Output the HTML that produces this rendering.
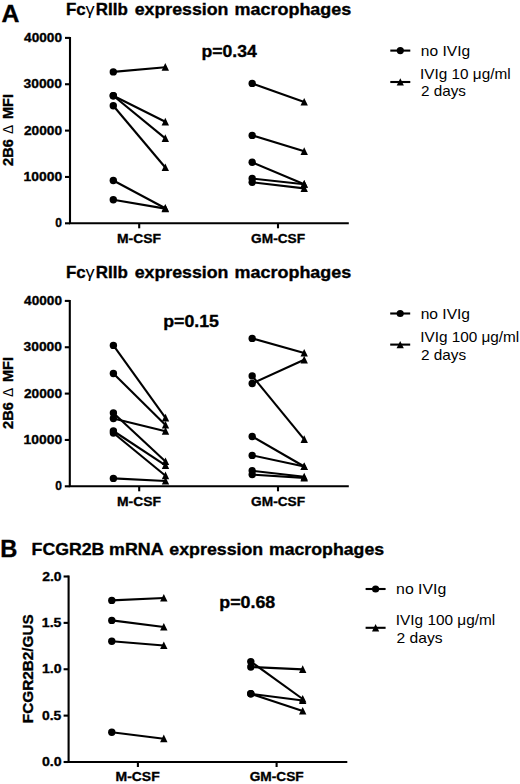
<!DOCTYPE html>
<html><head><meta charset="utf-8"><style>
html,body{margin:0;padding:0;background:#fff;}
svg{display:block;font-family:"Liberation Sans", sans-serif;}
text{stroke:none;fill:#000;} text[font-weight="bold"]{stroke:#000;stroke-width:0.35px;}
circle,path{stroke:none;fill:#000;}
line{stroke:#000;}
.ax{stroke:#000;fill:none;}
</style></head><body>
<svg width="520" height="784" viewBox="0 0 520 784">
<path class="ax" d="M70,37.0 V223.3 H348.8" stroke-width="2.1"/>
<line x1="65.00" y1="37.90" x2="70.00" y2="37.90" stroke-width="2.1"/>
<line x1="65.00" y1="84.25" x2="70.00" y2="84.25" stroke-width="2.1"/>
<line x1="65.00" y1="130.60" x2="70.00" y2="130.60" stroke-width="2.1"/>
<line x1="65.00" y1="176.95" x2="70.00" y2="176.95" stroke-width="2.1"/>
<line x1="65.00" y1="223.30" x2="70.00" y2="223.30" stroke-width="2.1"/>
<line x1="139.20" y1="223.30" x2="139.20" y2="228.30" stroke-width="2.1"/>
<line x1="278.00" y1="223.30" x2="278.00" y2="228.30" stroke-width="2.1"/>
<line x1="113.30" y1="71.90" x2="165.30" y2="67.20" stroke-width="2.1"/>
<line x1="113.30" y1="95.80" x2="165.30" y2="121.80" stroke-width="2.1"/>
<line x1="113.30" y1="95.80" x2="165.30" y2="138.40" stroke-width="2.1"/>
<line x1="113.30" y1="105.80" x2="165.30" y2="167.50" stroke-width="2.1"/>
<line x1="113.30" y1="180.50" x2="165.30" y2="208.20" stroke-width="2.1"/>
<line x1="113.30" y1="199.70" x2="165.30" y2="208.60" stroke-width="2.1"/>
<circle cx="113.30" cy="71.90" r="3.7"/>
<circle cx="113.30" cy="95.80" r="3.7"/>
<circle cx="113.30" cy="95.80" r="3.7"/>
<circle cx="113.30" cy="105.80" r="3.7"/>
<circle cx="113.30" cy="180.50" r="3.7"/>
<circle cx="113.30" cy="199.70" r="3.7"/>
<path d="M161.60,70.80L165.30,63.10L169.00,70.80Z"/>
<path d="M161.60,125.40L165.30,117.70L169.00,125.40Z"/>
<path d="M161.60,142.00L165.30,134.30L169.00,142.00Z"/>
<path d="M161.60,171.10L165.30,163.40L169.00,171.10Z"/>
<path d="M161.60,211.80L165.30,204.10L169.00,211.80Z"/>
<path d="M161.60,212.20L165.30,204.50L169.00,212.20Z"/>
<line x1="252.20" y1="83.40" x2="304.20" y2="102.00" stroke-width="2.1"/>
<line x1="252.20" y1="135.40" x2="304.20" y2="151.30" stroke-width="2.1"/>
<line x1="252.20" y1="162.30" x2="304.20" y2="184.20" stroke-width="2.1"/>
<line x1="252.20" y1="178.50" x2="304.20" y2="184.20" stroke-width="2.1"/>
<line x1="252.20" y1="182.30" x2="304.20" y2="188.40" stroke-width="2.1"/>
<circle cx="252.20" cy="83.40" r="3.7"/>
<circle cx="252.20" cy="135.40" r="3.7"/>
<circle cx="252.20" cy="162.30" r="3.7"/>
<circle cx="252.20" cy="178.50" r="3.7"/>
<circle cx="252.20" cy="182.30" r="3.7"/>
<path d="M300.50,105.60L304.20,97.90L307.90,105.60Z"/>
<path d="M300.50,154.90L304.20,147.20L307.90,154.90Z"/>
<path d="M300.50,187.80L304.20,180.10L307.90,187.80Z"/>
<path d="M300.50,187.80L304.20,180.10L307.90,187.80Z"/>
<path d="M300.50,192.00L304.20,184.30L307.90,192.00Z"/>
<line x1="390.30" y1="50.60" x2="410.30" y2="50.60" stroke-width="2.1"/>
<circle cx="400.30" cy="50.60" r="3.6"/>
<line x1="390.30" y1="82.00" x2="410.30" y2="82.00" stroke-width="2.1"/>
<path d="M396.70,85.60L400.30,78.30L403.90,85.60Z"/>
<path class="ax" d="M69.8,300.0 V486.3 H348.8" stroke-width="2.1"/>
<line x1="64.80" y1="300.90" x2="69.80" y2="300.90" stroke-width="2.1"/>
<line x1="64.80" y1="347.25" x2="69.80" y2="347.25" stroke-width="2.1"/>
<line x1="64.80" y1="393.60" x2="69.80" y2="393.60" stroke-width="2.1"/>
<line x1="64.80" y1="439.95" x2="69.80" y2="439.95" stroke-width="2.1"/>
<line x1="64.80" y1="486.30" x2="69.80" y2="486.30" stroke-width="2.1"/>
<line x1="139.20" y1="486.30" x2="139.20" y2="491.30" stroke-width="2.1"/>
<line x1="278.00" y1="486.30" x2="278.00" y2="491.30" stroke-width="2.1"/>
<line x1="113.40" y1="345.40" x2="165.50" y2="417.80" stroke-width="2.1"/>
<line x1="113.40" y1="373.50" x2="165.50" y2="425.00" stroke-width="2.1"/>
<line x1="113.40" y1="418.50" x2="165.50" y2="431.20" stroke-width="2.1"/>
<line x1="113.40" y1="413.00" x2="165.50" y2="461.50" stroke-width="2.1"/>
<line x1="113.40" y1="431.00" x2="165.50" y2="465.30" stroke-width="2.1"/>
<line x1="113.40" y1="433.00" x2="165.50" y2="475.70" stroke-width="2.1"/>
<line x1="113.40" y1="478.40" x2="165.50" y2="481.00" stroke-width="2.1"/>
<circle cx="113.40" cy="345.40" r="3.7"/>
<circle cx="113.40" cy="373.50" r="3.7"/>
<circle cx="113.40" cy="418.50" r="3.7"/>
<circle cx="113.40" cy="413.00" r="3.7"/>
<circle cx="113.40" cy="431.00" r="3.7"/>
<circle cx="113.40" cy="433.00" r="3.7"/>
<circle cx="113.40" cy="478.40" r="3.7"/>
<path d="M161.80,421.40L165.50,413.70L169.20,421.40Z"/>
<path d="M161.80,428.60L165.50,420.90L169.20,428.60Z"/>
<path d="M161.80,434.80L165.50,427.10L169.20,434.80Z"/>
<path d="M161.80,465.10L165.50,457.40L169.20,465.10Z"/>
<path d="M161.80,468.90L165.50,461.20L169.20,468.90Z"/>
<path d="M161.80,479.30L165.50,471.60L169.20,479.30Z"/>
<path d="M161.80,484.60L165.50,476.90L169.20,484.60Z"/>
<line x1="252.20" y1="338.40" x2="304.20" y2="353.00" stroke-width="2.1"/>
<line x1="252.20" y1="383.50" x2="304.20" y2="359.80" stroke-width="2.1"/>
<line x1="252.20" y1="375.90" x2="304.20" y2="439.30" stroke-width="2.1"/>
<line x1="252.20" y1="436.50" x2="304.20" y2="466.50" stroke-width="2.1"/>
<line x1="252.20" y1="455.40" x2="304.20" y2="466.50" stroke-width="2.1"/>
<line x1="252.20" y1="470.80" x2="304.20" y2="476.80" stroke-width="2.1"/>
<line x1="252.20" y1="474.60" x2="304.20" y2="477.90" stroke-width="2.1"/>
<circle cx="252.20" cy="338.40" r="3.7"/>
<circle cx="252.20" cy="383.50" r="3.7"/>
<circle cx="252.20" cy="375.90" r="3.7"/>
<circle cx="252.20" cy="436.50" r="3.7"/>
<circle cx="252.20" cy="455.40" r="3.7"/>
<circle cx="252.20" cy="470.80" r="3.7"/>
<circle cx="252.20" cy="474.60" r="3.7"/>
<path d="M300.50,356.60L304.20,348.90L307.90,356.60Z"/>
<path d="M300.50,363.40L304.20,355.70L307.90,363.40Z"/>
<path d="M300.50,442.90L304.20,435.20L307.90,442.90Z"/>
<path d="M300.50,470.10L304.20,462.40L307.90,470.10Z"/>
<path d="M300.50,470.10L304.20,462.40L307.90,470.10Z"/>
<path d="M300.50,480.40L304.20,472.70L307.90,480.40Z"/>
<path d="M300.50,481.50L304.20,473.80L307.90,481.50Z"/>
<line x1="390.20" y1="313.50" x2="410.20" y2="313.50" stroke-width="2.1"/>
<circle cx="400.20" cy="313.50" r="3.6"/>
<line x1="390.20" y1="344.60" x2="410.20" y2="344.60" stroke-width="2.1"/>
<path d="M396.60,348.20L400.20,340.90L403.80,348.20Z"/>
<path class="ax" d="M68.6,575.6 V762 H347.3" stroke-width="2.1"/>
<line x1="63.60" y1="576.50" x2="68.60" y2="576.50" stroke-width="2.1"/>
<line x1="63.60" y1="622.88" x2="68.60" y2="622.88" stroke-width="2.1"/>
<line x1="63.60" y1="669.25" x2="68.60" y2="669.25" stroke-width="2.1"/>
<line x1="63.60" y1="715.62" x2="68.60" y2="715.62" stroke-width="2.1"/>
<line x1="63.60" y1="762.00" x2="68.60" y2="762.00" stroke-width="2.1"/>
<line x1="137.90" y1="762.00" x2="137.90" y2="767.00" stroke-width="2.1"/>
<line x1="276.60" y1="762.00" x2="276.60" y2="767.00" stroke-width="2.1"/>
<line x1="111.80" y1="600.40" x2="163.80" y2="598.00" stroke-width="2.1"/>
<line x1="111.80" y1="620.40" x2="163.80" y2="627.00" stroke-width="2.1"/>
<line x1="111.80" y1="641.20" x2="163.80" y2="645.50" stroke-width="2.1"/>
<line x1="111.80" y1="732.30" x2="163.80" y2="738.70" stroke-width="2.1"/>
<circle cx="111.80" cy="600.40" r="3.7"/>
<circle cx="111.80" cy="620.40" r="3.7"/>
<circle cx="111.80" cy="641.20" r="3.7"/>
<circle cx="111.80" cy="732.30" r="3.7"/>
<path d="M160.10,601.60L163.80,593.90L167.50,601.60Z"/>
<path d="M160.10,630.60L163.80,622.90L167.50,630.60Z"/>
<path d="M160.10,649.10L163.80,641.40L167.50,649.10Z"/>
<path d="M160.10,742.30L163.80,734.60L167.50,742.30Z"/>
<line x1="250.80" y1="661.60" x2="302.70" y2="699.00" stroke-width="2.1"/>
<line x1="250.80" y1="667.00" x2="302.70" y2="669.40" stroke-width="2.1"/>
<line x1="250.80" y1="693.80" x2="302.70" y2="700.50" stroke-width="2.1"/>
<line x1="250.80" y1="693.80" x2="302.70" y2="711.00" stroke-width="2.1"/>
<circle cx="250.80" cy="661.60" r="3.7"/>
<circle cx="250.80" cy="667.00" r="3.7"/>
<circle cx="250.80" cy="693.80" r="3.7"/>
<circle cx="250.80" cy="693.80" r="3.7"/>
<path d="M299.00,702.60L302.70,694.90L306.40,702.60Z"/>
<path d="M299.00,673.00L302.70,665.30L306.40,673.00Z"/>
<path d="M299.00,704.10L302.70,696.40L306.40,704.10Z"/>
<path d="M299.00,714.60L302.70,706.90L306.40,714.60Z"/>
<line x1="365.60" y1="589.00" x2="385.60" y2="589.00" stroke-width="2.1"/>
<circle cx="375.60" cy="589.00" r="3.6"/>
<line x1="365.60" y1="627.80" x2="385.60" y2="627.80" stroke-width="2.1"/>
<path d="M372.00,631.40L375.60,624.10L379.20,631.40Z"/>
<text id="lA" x="1.42" y="21.90" font-size="24.6" font-weight="bold" textLength="17.91" lengthAdjust="spacingAndGlyphs">A</text>
<text id="lB" x="0.17" y="557.20" font-size="24.6" font-weight="bold" textLength="17.13" lengthAdjust="spacingAndGlyphs">B</text>
<text id="t0a" x="66.04" y="15.10" font-size="16.5" font-weight="bold" textLength="19.69" lengthAdjust="spacingAndGlyphs">Fc</text>
<text id="t0g" x="85.45" y="15.10" font-size="16.5" textLength="9.12" lengthAdjust="spacingAndGlyphs">&#947;</text>
<text id="t0b" x="95.89" y="15.10" font-size="16.5" font-weight="bold" textLength="31.96" lengthAdjust="spacingAndGlyphs">RIIb</text>
<text id="t0c" x="134.69" y="15.10" font-size="16.5" font-weight="bold" textLength="93.75" lengthAdjust="spacingAndGlyphs">expression</text>
<text id="t0d" x="234.64" y="15.10" font-size="16.5" font-weight="bold" textLength="116.64" lengthAdjust="spacingAndGlyphs">macrophages</text>
<text id="t1a" x="66.04" y="278.10" font-size="16.5" font-weight="bold" textLength="19.69" lengthAdjust="spacingAndGlyphs">Fc</text>
<text id="t1g" x="85.45" y="278.10" font-size="16.5" textLength="9.12" lengthAdjust="spacingAndGlyphs">&#947;</text>
<text id="t1b" x="95.89" y="278.10" font-size="16.5" font-weight="bold" textLength="31.96" lengthAdjust="spacingAndGlyphs">RIIb</text>
<text id="t1c" x="134.69" y="278.10" font-size="16.5" font-weight="bold" textLength="93.75" lengthAdjust="spacingAndGlyphs">expression</text>
<text id="t1d" x="234.64" y="278.10" font-size="16.5" font-weight="bold" textLength="116.64" lengthAdjust="spacingAndGlyphs">macrophages</text>
<text id="tBa" x="31.60" y="554.50" font-size="16.5" font-weight="bold" textLength="72.73" lengthAdjust="spacingAndGlyphs">FCGR2B</text>
<text id="tBb" x="109.11" y="554.50" font-size="16.5" font-weight="bold" textLength="54.40" lengthAdjust="spacingAndGlyphs">mRNA</text>
<text id="tBc" x="169.35" y="554.50" font-size="16.5" font-weight="bold" textLength="93.88" lengthAdjust="spacingAndGlyphs">expression</text>
<text id="tBd" x="268.93" y="554.50" font-size="16.5" font-weight="bold" textLength="115.19" lengthAdjust="spacingAndGlyphs">macrophages</text>
<text id="tk0_40000" x="24.12" y="41.90" font-size="13.5" font-weight="bold" textLength="37.85" lengthAdjust="spacingAndGlyphs">40000</text>
<text id="tk0_30000" x="23.52" y="88.25" font-size="13.5" font-weight="bold" textLength="38.47" lengthAdjust="spacingAndGlyphs">30000</text>
<text id="tk0_20000" x="23.90" y="134.60" font-size="13.5" font-weight="bold" textLength="38.12" lengthAdjust="spacingAndGlyphs">20000</text>
<text id="tk0_10000" x="23.50" y="180.95" font-size="13.5" font-weight="bold" textLength="38.64" lengthAdjust="spacingAndGlyphs">10000</text>
<text id="tk0_0" x="55.35" y="227.30" font-size="13.5" font-weight="bold" textLength="6.67" lengthAdjust="spacingAndGlyphs">0</text>
<text id="tk1_40000" x="24.12" y="304.90" font-size="13.5" font-weight="bold" textLength="37.85" lengthAdjust="spacingAndGlyphs">40000</text>
<text id="tk1_30000" x="23.52" y="351.25" font-size="13.5" font-weight="bold" textLength="38.47" lengthAdjust="spacingAndGlyphs">30000</text>
<text id="tk1_20000" x="23.90" y="397.60" font-size="13.5" font-weight="bold" textLength="38.12" lengthAdjust="spacingAndGlyphs">20000</text>
<text id="tk1_10000" x="23.50" y="443.95" font-size="13.5" font-weight="bold" textLength="38.64" lengthAdjust="spacingAndGlyphs">10000</text>
<text id="tk1_0" x="55.35" y="490.30" font-size="13.5" font-weight="bold" textLength="6.67" lengthAdjust="spacingAndGlyphs">0</text>
<text id="tkB_2.0" x="42.23" y="580.50" font-size="13.5" font-weight="bold" textLength="19.38" lengthAdjust="spacingAndGlyphs">2.0</text>
<text id="tkB_1.5" x="41.79" y="626.88" font-size="13.5" font-weight="bold" textLength="19.64" lengthAdjust="spacingAndGlyphs">1.5</text>
<text id="tkB_1.0" x="41.96" y="673.25" font-size="13.5" font-weight="bold" textLength="19.63" lengthAdjust="spacingAndGlyphs">1.0</text>
<text id="tkB_0.5" x="42.04" y="719.62" font-size="13.5" font-weight="bold" textLength="19.32" lengthAdjust="spacingAndGlyphs">0.5</text>
<text id="tkB_0.0" x="41.97" y="766.00" font-size="13.5" font-weight="bold" textLength="19.69" lengthAdjust="spacingAndGlyphs">0.0</text>
<text id="c0m" x="117.00" y="242.80" font-size="13.6" font-weight="bold" textLength="43.94" lengthAdjust="spacingAndGlyphs">M-CSF</text>
<text id="c0g" x="251.14" y="242.80" font-size="13.6" font-weight="bold" textLength="53.94" lengthAdjust="spacingAndGlyphs">GM-CSF</text>
<text id="c1m" x="117.00" y="505.70" font-size="13.6" font-weight="bold" textLength="43.94" lengthAdjust="spacingAndGlyphs">M-CSF</text>
<text id="c1g" x="251.14" y="505.70" font-size="13.6" font-weight="bold" textLength="53.94" lengthAdjust="spacingAndGlyphs">GM-CSF</text>
<text id="cBm" x="115.52" y="781.00" font-size="13.6" font-weight="bold" textLength="44.18" lengthAdjust="spacingAndGlyphs">M-CSF</text>
<text id="cBg" x="249.66" y="781.00" font-size="13.6" font-weight="bold" textLength="54.02" lengthAdjust="spacingAndGlyphs">GM-CSF</text>
<text id="p0" x="201.44" y="57.00" font-size="17" font-weight="bold" textLength="55.30" lengthAdjust="spacingAndGlyphs">p=0.34</text>
<text id="p1" x="163.18" y="327.00" font-size="17" font-weight="bold" textLength="55.77" lengthAdjust="spacingAndGlyphs">p=0.15</text>
<text id="pB" x="219.28" y="607.50" font-size="17" font-weight="bold" textLength="56.03" lengthAdjust="spacingAndGlyphs">p=0.68</text>
<text id="L0a" class="r" x="420.86" y="56.00" font-size="14.4" textLength="49.23" lengthAdjust="spacingAndGlyphs">no IVIg</text>
<text id="L0b" class="r" x="420.05" y="78.70" font-size="14.4" textLength="90.59" lengthAdjust="spacingAndGlyphs">IVIg 10 &#956;g/ml</text>
<text id="L0c" class="r" x="421.02" y="95.90" font-size="14.4" textLength="44.99" lengthAdjust="spacingAndGlyphs">2 days</text>
<text id="L1a" class="r" x="420.67" y="318.70" font-size="14.4" textLength="49.38" lengthAdjust="spacingAndGlyphs">no IVIg</text>
<text id="L1b" class="r" x="420.21" y="341.80" font-size="14.4" textLength="99.08" lengthAdjust="spacingAndGlyphs">IVIg 100 &#956;g/ml</text>
<text id="L1c" class="r" x="420.94" y="359.50" font-size="14.4" textLength="45.25" lengthAdjust="spacingAndGlyphs">2 days</text>
<text id="LBa" class="r" x="396.08" y="594.20" font-size="14.4" textLength="50.23" lengthAdjust="spacingAndGlyphs">no IVIg</text>
<text id="LBb" class="r" x="395.81" y="624.90" font-size="14.4" textLength="99.38" lengthAdjust="spacingAndGlyphs">IVIg 100 &#956;g/ml</text>
<text id="LBc" class="r" x="396.49" y="643.00" font-size="14.4" textLength="46.10" lengthAdjust="spacingAndGlyphs">2 days</text>
<text id="y0a" transform="translate(12.60,165.96) rotate(-90)" x="0" y="0" font-size="14.5" font-weight="bold" textLength="26.78" lengthAdjust="spacingAndGlyphs">2B6</text>
<text id="y0d" transform="translate(12.60,133.96) rotate(-90)" x="0" y="0" font-size="14.5" textLength="9.12" lengthAdjust="spacingAndGlyphs">&#916;</text>
<text id="y0m" transform="translate(12.60,119.11) rotate(-90)" x="0" y="0" font-size="14.5" font-weight="bold" textLength="25.07" lengthAdjust="spacingAndGlyphs">MFI</text>
<text id="y1a" transform="translate(12.60,428.96) rotate(-90)" x="0" y="0" font-size="14.5" font-weight="bold" textLength="26.78" lengthAdjust="spacingAndGlyphs">2B6</text>
<text id="y1d" transform="translate(12.60,396.96) rotate(-90)" x="0" y="0" font-size="14.5" textLength="9.12" lengthAdjust="spacingAndGlyphs">&#916;</text>
<text id="y1m" transform="translate(12.60,382.11) rotate(-90)" x="0" y="0" font-size="14.5" font-weight="bold" textLength="25.07" lengthAdjust="spacingAndGlyphs">MFI</text>
<text id="yB" transform="translate(32.80,723.15) rotate(-90)" x="0" y="0" font-size="15" font-weight="bold" textLength="108.82" lengthAdjust="spacingAndGlyphs">FCGR2B2/GUS</text>
</svg>
</body></html>
